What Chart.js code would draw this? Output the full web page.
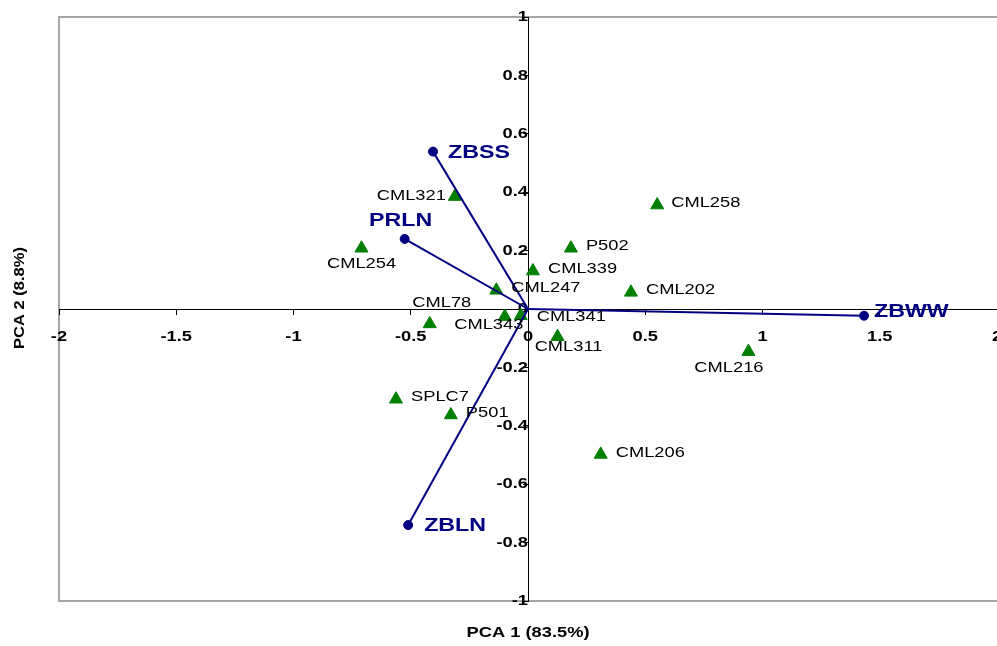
<!DOCTYPE html>
<html>
<head>
<meta charset="utf-8">
<script src="https://cdn.jsdelivr.net/npm/chart.js@4/dist/chart.umd.min.js"></script>
<style>
  html, body { margin: 0; padding: 0; background: #ffffff; }
  canvas { display: block; }
</style>
</head>
<body>
<canvas id="biplot" width="997" height="646"></canvas>
<script>
// Genotype scores on the first two principal components
const genotypes = ['CML321', 'CML254', 'P502', 'CML339', 'CML247', 'CML202', 'CML258', 'CML78',
                   'CML343', 'CML341', 'CML311', 'CML216', 'SPLC7', 'P501', 'CML206'];
const genoPC1 = [-0.312, -0.710, 0.183, 0.021, -0.135, 0.439, 0.551, -0.419,
                 -0.099, -0.031, 0.126, 0.940, -0.563, -0.329, 0.310];
const genoPC2 = [0.385, 0.208, 0.208, 0.130, 0.064, 0.057, 0.356, -0.051,
                 -0.026, -0.023, -0.095, -0.146, -0.309, -0.363, -0.498];

// Trait loadings (drawn as vectors from the origin)
const traits = ['ZBSS', 'PRLN', 'ZBWW', 'ZBLN'];
const traitPC1 = [-0.405, -0.526, 1.433, -0.511];
const traitPC2 = [0.539, 0.240, -0.023, -0.740];

// Axis ticks
const xTickValues = [-2, -1.5, -1, -0.5, 0, 0.5, 1, 1.5, 2];
const xTickLabels = ['-2', '-1.5', '-1', '-0.5', '0', '0.5', '1', '1.5', '2'];
const yTickValues = [-1, -0.8, -0.6, -0.4, -0.2, 0, 0.2, 0.4, 0.6, 0.8, 1];
const yTickLabels = ['-1', '-0.8', '-0.6', '-0.4', '-0.2', '0', '0.2', '0.4', '0.6', '0.8', '1'];

const xTitle = 'PCA 1 (83.5%)';
const yTitle = 'PCA 2 (8.8%)';

// Label placement next to each marker: [textAlign, dx, dy] in pixels
const genoLabelPlacement = [
  ['right', -9, -1], ['center', 0, 16], ['left', 15, -2], ['left', 15, -2], ['left', 15, -2],
  ['left', 15, -2.5], ['left', 14, -2.5], ['center', 12, -21], ['center', -16, 8], ['left', 16, 1],
  ['center', 11, 10], ['center', -19.5, 16], ['left', 15, -2], ['left', 15, -2.5], ['left', 15, -2]
];
const traitLabelPlacement = [
  ['left', 15, 1], ['center', -4, -18], ['left', 10, -3.5], ['left', 16, 0.5]
];

const FONT = "'Liberation Sans', Arial, Helvetica, sans-serif";
const NAVY = '#000080';
const GREEN = '#008000';

const canvas = document.getElementById('biplot');
const ctx = canvas.getContext('2d');

// Text is set in a wide aspect: every string is stretched horizontally about its anchor.
let textStretch = 1.22;
const rawFillText = ctx.fillText;
ctx.fillText = function (text, x, y, maxWidth) {
  this.save();
  this.translate(x, y);
  this.scale(textStretch, 1);
  if (maxWidth === undefined || maxWidth === null) {
    rawFillText.call(this, text, 0, 0);
  } else {
    rawFillText.call(this, text, 0, 0, maxWidth / textStretch);
  }
  this.restore();
};

// Plot frame (top, left and bottom edges) behind the axes
const plotFrame = {
  id: 'plotFrame',
  beforeDraw(chart) {
    const { ctx: c, chartArea: a } = chart;
    c.save();
    c.strokeStyle = '#a6a6a6';
    c.lineWidth = 2;
    c.beginPath();
    c.moveTo(chart.width, a.top);
    c.lineTo(a.left, a.top);
    c.lineTo(a.left, a.bottom);
    c.lineTo(chart.width, a.bottom);
    c.stroke();
    c.restore();
  }
};

// Marker labels and axis titles
const annotations = {
  id: 'annotations',
  afterDatasetsDraw(chart) {
    const c = chart.ctx;
    c.save();
    c.textBaseline = 'middle';

    // genotype names
    const gMeta = chart.getDatasetMeta(traits.length);
    c.font = '15px ' + FONT;
    c.fillStyle = '#000000';
    textStretch = 1.22;
    gMeta.data.forEach((pt, i) => {
      const [align, dx, dy] = genoLabelPlacement[i];
      c.textAlign = align;
      c.fillText(genotypes[i], pt.x + dx, pt.y + dy);
    });

    // trait names at the vector tips
    c.font = 'bold 19px ' + FONT;
    c.fillStyle = NAVY;
    traits.forEach((t, i) => {
      const tip = chart.getDatasetMeta(i).data[1];
      const [align, dx, dy] = traitLabelPlacement[i];
      c.textAlign = align;
      c.fillText(t, tip.x + dx, tip.y + dy);
    });

    // axis titles
    const a = chart.chartArea;
    const xs = chart.scales.x;
    c.font = 'bold 15px ' + FONT;
    c.fillStyle = '#000000';
    c.textAlign = 'center';
    c.fillText(xTitle, xs.getPixelForValue(0), a.bottom + 32);

    textStretch = 1.1;
    c.translate(20, (a.top + a.bottom) / 2 - 11);
    c.rotate(-Math.PI / 2);
    c.fillText(yTitle, 0, 0);
    textStretch = 1.22;
    c.restore();
  }
};

const vectorSets = traits.map((name, i) => ({
  label: name,
  data: [{ x: 0, y: 0 }, { x: traitPC1[i], y: traitPC2[i] }],
  showLine: true,
  borderColor: NAVY,
  borderWidth: 2,
  pointRadius: [0, 4.5],
  pointHoverRadius: [0, 4.5],
  pointBackgroundColor: NAVY,
  pointBorderColor: NAVY,
  pointBorderWidth: 1,
  tension: 0
}));

const genotypeSet = {
  label: 'Genotypes',
  data: genotypes.map((g, i) => ({ x: genoPC1[i], y: genoPC2[i] })),
  showLine: false,
  pointStyle: 'triangle',
  pointRadius: 7.5,
  pointHoverRadius: 7.5,
  pointBackgroundColor: GREEN,
  pointBorderColor: GREEN,
  pointBorderWidth: 1
};

const tickFont = { family: FONT, size: 15, weight: 'bold' };

new Chart(ctx, {
  type: 'scatter',
  data: { datasets: [...vectorSets, genotypeSet] },
  options: {
    responsive: false,
    animation: false,
    events: [],
    layout: { autoPadding: false, padding: { left: 59, top: 17, right: 0, bottom: 45 } },
    plugins: {
      legend: { display: false },
      tooltip: { enabled: false },
      title: { display: false }
    },
    scales: {
      x: {
        type: 'linear',
        min: -2,
        max: 2,
        position: { y: 0 },
        afterBuildTicks: s => { s.ticks = xTickValues.map(v => ({ value: v })); },
        afterFit: s => { s.paddingLeft = 0; s.paddingRight = 0; },
        ticks: {
          autoSkip: false,
          maxRotation: 0,
          padding: 14,
          color: '#000000',
          font: tickFont,
          callback: (v, idx) => xTickLabels[idx]
        },
        grid: { drawOnChartArea: false, drawTicks: true, tickLength: 5, color: '#000000', tickColor: '#000000' },
        border: { display: true, color: '#000000', width: 1 }
      },
      y: {
        type: 'linear',
        min: -1,
        max: 1,
        position: { x: 0 },
        afterBuildTicks: s => { s.ticks = yTickValues.map(v => ({ value: v })); },
        afterFit: s => { s.paddingTop = 0; s.paddingBottom = 0; },
        ticks: {
          autoSkip: false,
          padding: 11,
          color: '#000000',
          font: tickFont,
          callback: (v, idx) => yTickLabels[idx]
        },
        grid: { drawOnChartArea: false, drawTicks: true, tickLength: 5, color: '#000000', tickColor: '#000000' },
        border: { display: true, color: '#000000', width: 1 }
      }
    }
  },
  plugins: [plotFrame, annotations]
});
</script>
</body>
</html>
